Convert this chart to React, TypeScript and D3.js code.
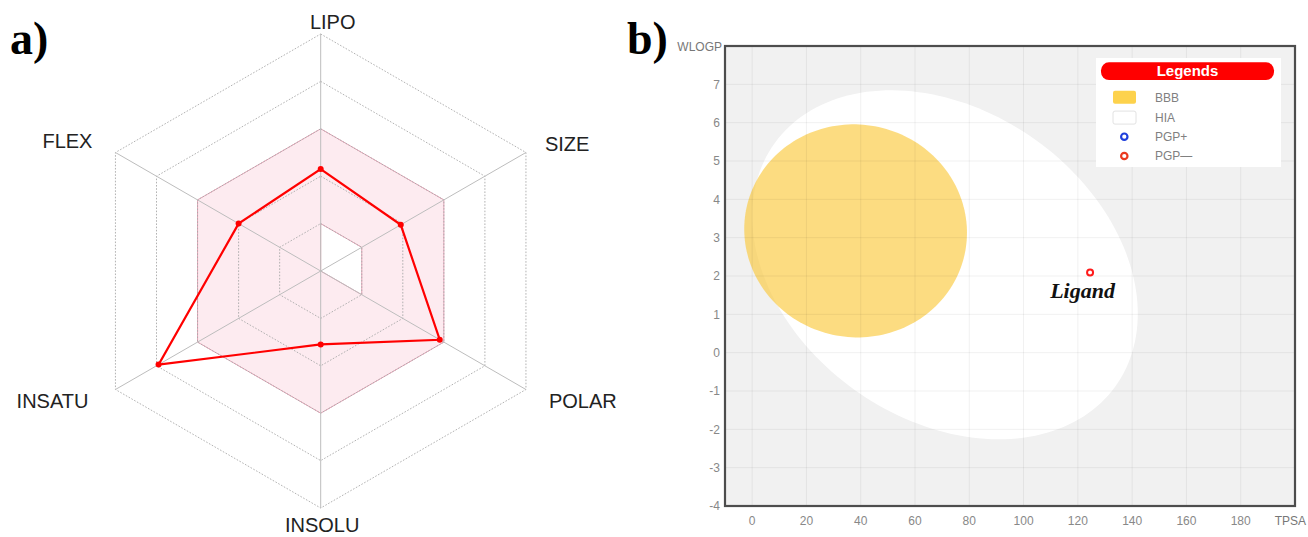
import React from "react";
import * as d3 from "d3";

// ---------- Data: bioavailability radar ----------
const radarAxes = ["LIPO", "SIZE", "POLAR", "INSOLU", "INSATU", "FLEX"];
const radarValues = [0.43, 0.39, 0.58, 0.31, 0.79, 0.4];
const optimalLow = [0.2, 0.2, 0.2, 0, 0, 0];
const optimalHigh = [0.6, 0.6, 0.6, 0.6, 0.6, 0.6];
const radarLevels = [0.2, 0.4, 0.6, 0.8, 1.0];

// ---------- Data: BOILED-Egg ----------
const tpsaTicks = [0, 20, 40, 60, 80, 100, 120, 140, 160, 180];
const wlogpTicks = [-4, -3, -2, -1, 0, 1, 2, 3, 4, 5, 6, 7];
const wlogpGrid = [-4, -3, -2, -1, 0, 1, 2, 3, 4, 5, 6, 7, 8];
const eggNames = ["HIA", "BBB"];
const eggCenterTPSA = [71.051, 38.117];
const eggCenterWLOGP = [2.292, 3.177];
const eggAxisTPSA = [142.081, 82.061];
const eggAxisWLOGP = [8.74, 5.557];
const eggAngleDeg = [-1.031325, -0.066837];
const ligandNames = ["Ligand"];
const ligandTPSA = [124.5];
const ligandWLOGP = [2.09];
const legendLabels = ["BBB", "HIA", "PGP+", "PGP\u2014"];

const SANS = "'Liberation Sans', Arial, sans-serif";
const SERIF = "'Liberation Serif', 'Times New Roman', serif";

function Radar() {
  const cx = 320.7;
  const cy = 271;
  const R = 237;
  const r = d3.scaleLinear().domain([0, 1]).range([0, R]);
  const step = (2 * Math.PI) / radarAxes.length;
  const radial = d3
    .lineRadial<number>()
    .angle((_, i) => i * step)
    .radius((d) => r(d))
    .curve(d3.curveLinearClosed);
  const bandPath = (radial(optimalHigh) || "") + (radial(optimalLow) || "");
  const pt = (v: number, i: number) => [r(v) * Math.sin(i * step), -r(v) * Math.cos(i * step)];
  const labelOff: [number, number, string][] = [
    [12, -5, "middle"],
    [19, -2, "start"],
    [23, 18, "start"],
    [1.5, 24, "middle"],
    [-27, 18, "end"],
    [-23, -5, "end"],
  ];
  return (
    <g>
      <g transform={`translate(${cx},${cy})`}>
        <path d={bandPath} fill="#fdebf0" fillRule="evenodd" stroke="#e6a3b6" strokeWidth={1} />
        {radarLevels.map((lv) => (
          <path
            key={lv}
            d={radial(radarAxes.map(() => lv)) || ""}
            fill="none"
            stroke="#a9a9a9"
            strokeWidth={0.9}
            strokeDasharray="1.6,1.6"
          />
        ))}
        {radarAxes.map((a, i) => {
          const [x, y] = pt(1, i);
          return <line key={a} x1={0} y1={0} x2={x} y2={y} stroke="#bdbdbd" strokeWidth={1} />;
        })}
        <path d={radial(radarValues) || ""} fill="none" stroke="#ff0000" strokeWidth={2.2} />
        {radarValues.map((v, i) => {
          const [x, y] = pt(v, i);
          return <circle key={i} cx={x} cy={y} r={3} fill="#ff0000" />;
        })}
        {radarAxes.map((a, i) => {
          const [x, y] = pt(1, i);
          const [dx, dy, anchor] = labelOff[i];
          return (
            <text
              key={a}
              x={x + dx}
              y={y + dy}
              textAnchor={anchor as any}
              fontFamily={SANS}
              fontSize={20}
              fill="#222"
            >
              {a}
            </text>
          );
        })}
      </g>
      <text x={10} y={54} fontFamily={SERIF} fontWeight="bold" fontSize={46} fill="#000">
        a)
      </text>
    </g>
  );
}

function Egg() {
  const x = d3.scaleLinear().domain([-10, 200]).range([725, 1295]);
  const y = d3.scaleLinear().domain([-4, 8]).range([506, 46]);
  const ellipsePath = (k: number) => {
    const a = eggAxisTPSA[k] / 2;
    const b = eggAxisWLOGP[k] / 2;
    const th = (eggAngleDeg[k] * Math.PI) / 180;
    const pts: [number, number][] = d3.range(0, 361, 2).map((deg) => {
      const t = (deg * Math.PI) / 180;
      const dx = a * Math.cos(t) * Math.cos(th) - b * Math.sin(t) * Math.sin(th);
      const dy = a * Math.cos(t) * Math.sin(th) + b * Math.sin(t) * Math.cos(th);
      return [x(eggCenterTPSA[k] + dx), y(eggCenterWLOGP[k] + dy)];
    });
    return d3.line().curve(d3.curveLinearClosed)(pts) || "";
  };
  const x0 = x(-10);
  const x1 = x(200);
  const yTop = y(8);
  const yBot = y(-4);
  const rowsY = [97.3, 117.6, 136.7, 156];
  return (
    <g>
      <rect x={x0} y={yTop} width={x1 - x0} height={yBot - yTop} fill="#f1f1f1" />
      {eggNames.map((n, k) => (
        <path
          key={n}
          d={ellipsePath(k)}
          fill={n === "HIA" ? "#ffffff" : "#fbc93d"}
          fillOpacity={n === "HIA" ? 1 : 0.65}
        />
      ))}
      {tpsaTicks.map((t) => (
        <line key={"vx" + t} x1={x(t)} x2={x(t)} y1={yTop} y2={yBot} stroke="rgba(0,0,0,0.06)" />
      ))}
      {wlogpGrid.map((t) => (
        <line key={"hy" + t} x1={x0} x2={x1} y1={y(t)} y2={y(t)} stroke="rgba(0,0,0,0.06)" />
      ))}
      <rect x={x0} y={yTop} width={x1 - x0} height={yBot - yTop} fill="none" stroke="#4d4d4d" strokeWidth={2.2} />
      {wlogpTicks.map((t) => (
        <text key={"yt" + t} x={720} y={y(t)} dy="0.35em" textAnchor="end" fontFamily={SANS} fontSize={12} fill="#888">
          {t}
        </text>
      ))}
      <text x={722} y={47} dy="0.35em" textAnchor="end" fontFamily={SANS} fontSize={12} fill="#777">
        WLOGP
      </text>
      {tpsaTicks.map((t) => (
        <text key={"xt" + t} x={x(t)} y={521} dy="0.35em" textAnchor="middle" fontFamily={SANS} fontSize={12} fill="#888">
          {t}
        </text>
      ))}
      <text x={1306} y={521} dy="0.35em" textAnchor="end" fontFamily={SANS} fontSize={12} fill="#777">
        TPSA
      </text>

      {/* legend */}
      <rect x={1096} y={58} width={185} height={109} fill="#ffffff" />
      <rect x={1101} y={62.3} width={173} height={17.7} rx={8} fill="#ff0000" />
      <text x={1187.5} y={71.2} dy="0.35em" textAnchor="middle" fontFamily={SANS} fontWeight="bold" fontSize={15} fill="#fff">
        Legends
      </text>
      {legendLabels.map((l, i) => {
        const ry = rowsY[i];
        let sw;
        if (i === 0) sw = <rect x={1113} y={ry - 6.5} width={23} height={13} rx={2} fill="#fdd24c" />;
        else if (i === 1)
          sw = <rect x={1113} y={ry - 6.5} width={23} height={13} rx={2} fill="#fff" stroke="#e2e2e2" />;
        else
          sw = (
            <circle cx={1124.3} cy={ry} r={3.2} fill="#fff" stroke={i === 2 ? "#1f3fdc" : "#ea3a1f"} strokeWidth={2.2} />
          );
        return (
          <g key={l}>
            {sw}
            <text x={1155} y={ry} dy="0.35em" fontFamily={SANS} fontSize={12} fill="#808080">
              {l}
            </text>
          </g>
        );
      })}

      {ligandNames.map((n, i) => (
        <g key={n}>
          <circle cx={x(ligandTPSA[i])} cy={y(ligandWLOGP[i])} r={3} fill="#fff" stroke="#ff1a1a" strokeWidth={2} />
          <text
            x={x(ligandTPSA[i]) - 7.5}
            y={y(ligandWLOGP[i]) + 25.5}
            textAnchor="middle"
            fontFamily={SERIF}
            fontWeight="bold"
            fontStyle="italic"
            fontSize={22}
            fill="#111"
          >
            {n}
          </text>
        </g>
      ))}
      <text x={627} y={54} fontFamily={SERIF} fontWeight="bold" fontSize={46} fill="#000">
        b)
      </text>
    </g>
  );
}

export default function App() {
  return (
    <div style={{ position: "absolute", left: 0, top: 0, width: 1308, height: 537, background: "#fff" }}>
      <svg width={1308} height={537} style={{ display: "block" }}>
        <rect width={1308} height={537} fill="#fff" />
        <Radar />
        <Egg />
      </svg>
    </div>
  );
}
